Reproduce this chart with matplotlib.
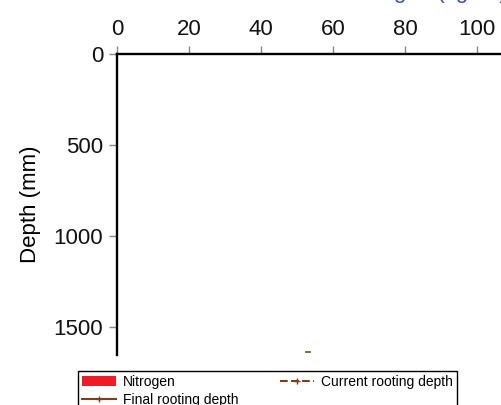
import matplotlib
matplotlib.use("Agg")
import matplotlib.pyplot as plt
from matplotlib.patches import Patch
from matplotlib.lines import Line2D

plt.rcParams['font.family'] = ['Liberation Sans', 'DejaVu Sans']

x_ticks = [0, 20, 40, 60, 80, 100]
y_ticks = [0, 500, 1000, 1500]
x_lim = (0, 106.7)
y_lim = (1654, 0)
# tiny visible fragment of the rooting depth series
root_x = [52.5, 53.5]
root_y = [1637, 1637]
legend_labels = ["Nitrogen", "Final rooting depth", "Current rooting depth"]
brown = "#7b3f1e"

fig = plt.figure(figsize=(5.01, 4.05), dpi=100)
ax = fig.add_axes([117/501, 1-355/405, 1-117/501, (355-54)/405])
ax.set_xlim(*x_lim)
ax.set_ylim(*y_lim)
ax.xaxis.tick_top()
ax.set_xticks(x_ticks)
ax.set_yticks(y_ticks)
ax.tick_params(axis='both', direction='out', length=5.5, width=1, color='#888888',
               labelsize=16, pad=4.5, labelcolor='#111111')
for s in ['right', 'bottom']:
    ax.spines[s].set_visible(False)
for s in ['top', 'left']:
    ax.spines[s].set_linewidth(1.7)
ax.set_ylabel("Depth (mm)", fontsize=16, labelpad=9)
ax.plot(root_x, root_y, color=brown, lw=1.2, clip_on=False)

fig.text(347/501, 1 + 2/405, "Nitrogen (kg/ha)", color='#3355cc', fontsize=16,
         ha='left', va='baseline')

handles = [Patch(facecolor='#ee1c25', edgecolor='none'),
           Line2D([], [], color=brown, lw=1.5, marker='+', markersize=4),
           Line2D([], [], color=brown, lw=1.5, ls='--', marker='+', markersize=4)]
fig.legend(handles, legend_labels, loc='upper left', ncol=2,
           bbox_to_anchor=(78/501, 1-371/405, (457-78)/501, 0.0), mode='expand',
           fontsize=10, frameon=True, fancybox=False, edgecolor='black',
           framealpha=1, borderpad=0.3, handlelength=2.45, handletextpad=0.5,
           labelspacing=0.3, borderaxespad=0)

fig.savefig("out.png", dpi=100)
